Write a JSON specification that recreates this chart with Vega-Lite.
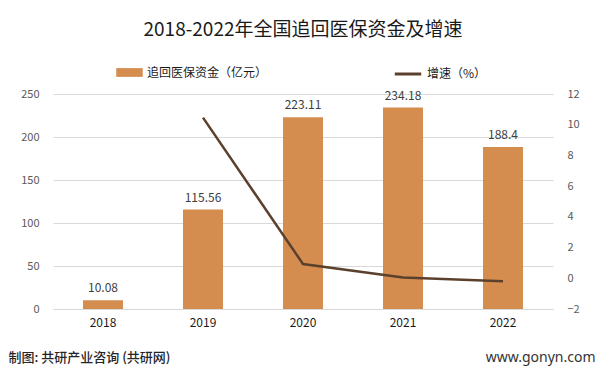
{
  "$schema": "https://vega.github.io/schema/vega-lite/v6.json",
  "width": 500,
  "height": 215,
  "autosize": {"type": "none"},
  "padding": {"left": 53, "top": 94, "right": 47, "bottom": 62},
  "background": "white",
  "config": {
    "view": {"stroke": null},
    "font": "Noto Sans CJK SC"
  },
  "title": {
    "text": "2018-2022年全国追回医保资金及增速",
    "fontSize": 19,
    "fontWeight": "normal",
    "color": "#1a1a1a",
    "anchor": "middle",
    "offset": 19
  },
  "data": {
    "values": [
      {"year": "2018", "amount": 10.08, "growth": null},
      {"year": "2019", "amount": 115.56, "growth": 10.46},
      {"year": "2020", "amount": 223.11, "growth": 0.93},
      {"year": "2021", "amount": 234.18, "growth": 0.05},
      {"year": "2022", "amount": 188.4, "growth": -0.2}
    ]
  },
  "layer": [
    {
      "encoding": {
        "x": {
          "field": "year",
          "type": "nominal",
          "scale": {"paddingInner": 0.6, "paddingOuter": 0.3},
          "axis": {
            "orient": "bottom",
            "title": "制图: 共研产业咨询 (共研网)",
            "titleFont": "Noto Sans CJK SC",
            "titleFontSize": 13,
            "titleFontWeight": 500,
            "titleColor": "#262626",
            "titleAnchor": "start",
            "titleAlign": "left",
            "titleBaseline": "middle",
            "titleX": -45,
            "titleY": 48,
            "labelAngle": 0,
            "labelFontSize": 12,
            "labelColor": "#1a1a1a",
            "labelPadding": 8,
            "ticks": false,
            "domainColor": "#d9d9d9",
            "grid": false
          }
        },
        "y": {
          "field": "amount",
          "type": "quantitative",
          "scale": {"domain": [0, 250]},
          "axis": {
            "title": null,
            "values": [0, 50, 100, 150, 200, 250],
            "labelFontSize": 11,
            "labelColor": "#595959",
            "labelPadding": 14,
            "ticks": false,
            "domain": false,
            "gridColor": "#d9d9d9"
          }
        }
      },
      "layer": [
        {
          "mark": {"type": "bar", "color": "#d58d4f"},
          "encoding": {
            "fill": {
              "datum": "追回医保资金（亿元）",
              "scale": {"range": ["#d58d4f"]},
              "legend": {
                "title": null,
                "orient": "none",
                "legendX": 63,
                "legendY": -35,
                "padding": 0,
                "symbolType": "M-1,-0.33H1V0.33H-1Z",
                "symbolSize": 700,
                "symbolStrokeWidth": 0,
                "labelFontSize": 12,
                "labelColor": "#1a1a1a",
                "labelOffset": 4
              }
            }
          }
        },
        {
          "mark": {"type": "text", "dy": -5, "fontSize": 12, "color": "#404040", "baseline": "bottom"},
          "encoding": {"text": {"field": "amount", "type": "quantitative"}}
        }
      ]
    },
    {
      "mark": {"type": "line", "strokeWidth": 2.5},
      "encoding": {
        "x": {
          "field": "year",
          "type": "nominal",
          "axis": {
            "orient": "bottom",
            "title": "www.gonyn.com",
            "titleFont": "Noto Sans",
            "titleFontSize": 14,
            "titleFontWeight": "normal",
            "titleColor": "#333333",
            "titleAnchor": "end",
            "titleAlign": "right",
            "titleBaseline": "middle",
            "titleX": 542,
            "titleY": 48,
            "labels": false,
            "ticks": false,
            "domain": false,
            "grid": false
          }
        },
        "y": {
          "field": "growth",
          "type": "quantitative",
          "scale": {"domain": [-2, 12]},
          "axis": {
            "orient": "right",
            "title": null,
            "values": [-2, 0, 2, 4, 6, 8, 10, 12],
            "labelFontSize": 11,
            "labelColor": "#595959",
            "labelPadding": 14,
            "ticks": false,
            "domain": false,
            "grid": false
          }
        },
        "stroke": {
          "datum": "增速（%）",
          "scale": {"range": ["#5b412d"]},
          "legend": {
            "title": null,
            "orient": "none",
            "legendX": 340,
            "legendY": -35,
            "padding": 0,
            "symbolType": "stroke",
            "symbolSize": 700,
            "symbolStrokeWidth": 3,
            "labelFontSize": 12,
            "labelColor": "#1a1a1a",
            "labelOffset": 4
          }
        }
      }
    }
  ],
  "resolve": {"scale": {"y": "independent", "fill": "independent", "stroke": "independent"}, "axis": {"x": "independent"}}
}
